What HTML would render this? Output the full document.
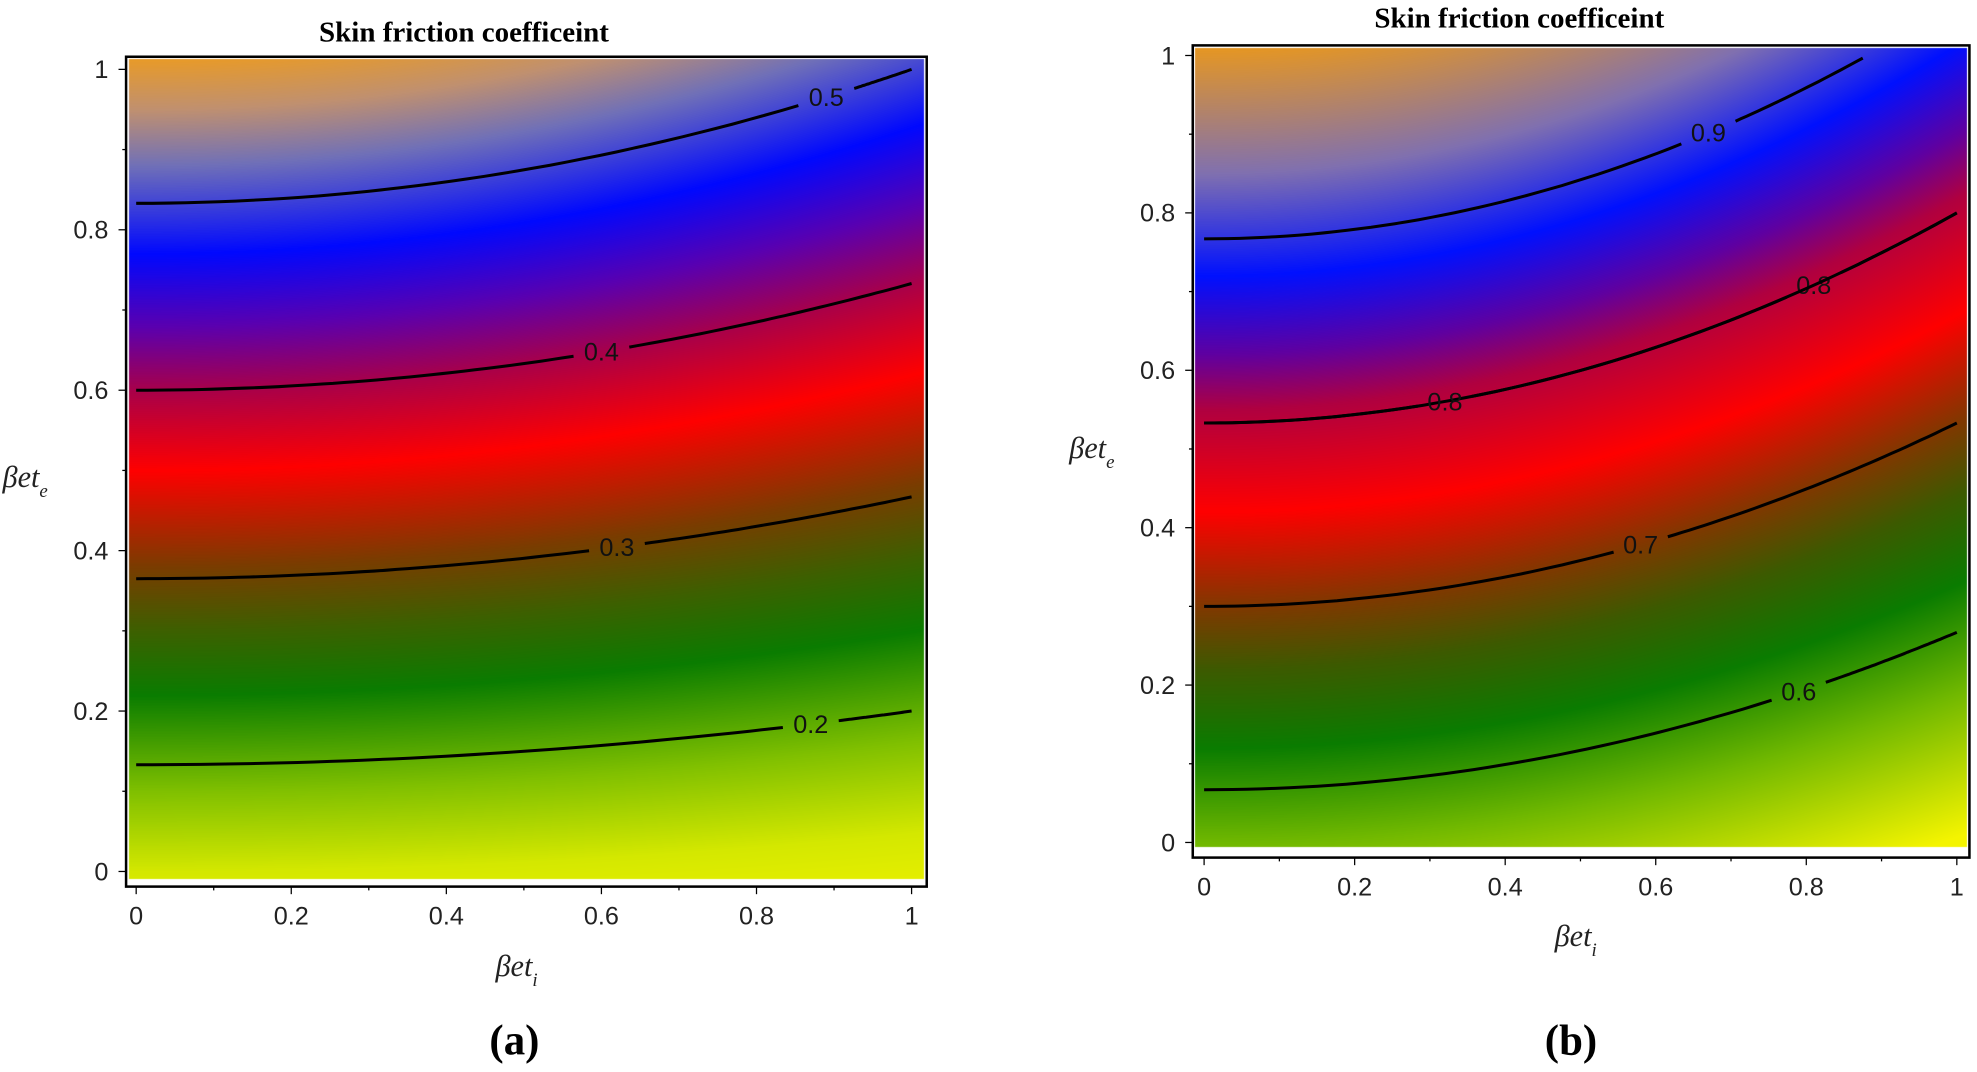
<!DOCTYPE html>
<html><head><meta charset="utf-8">
<style>
html,body{margin:0;padding:0;background:#fff;width:1977px;height:1072px;overflow:hidden}
canvas,svg{position:absolute;left:0;top:0}
</style></head><body>
<canvas id="c" width="1977" height="1072"></canvas>
<svg id="s" width="1977" height="1072" viewBox="0 0 1568 850" preserveAspectRatio="none" xmlns="http://www.w3.org/2000/svg">
<g font-family="Liberation Serif, serif" font-weight="bold" font-size="23" text-anchor="middle" fill="#000">
<text x="368" y="33">Skin friction coefficeint</text>
<text x="1205" y="22">Skin friction coefficeint</text>
<text x="408" y="836" font-size="34">(a)</text>
<text x="1246" y="836" font-size="34">(b)</text>
</g>
<g font-family="Liberation Serif, serif" font-style="italic" font-size="24" fill="#222">
<text x="2" y="386">βet<tspan font-size="15" dy="8">e</tspan></text>
<text x="393" y="774">βet<tspan font-size="15" dy="8">i</tspan></text>
<text x="848" y="363">βet<tspan font-size="15" dy="8">e</tspan></text>
<text x="1233" y="750">βet<tspan font-size="15" dy="8">i</tspan></text>
</g>
<g id="g"></g>
</svg>
<script>
const S=1977/1568;
const P=[
 {fx0:102,fx1:733,fy0:47,fy1:697,x0:108,x1:723,y1:55,y0:691,c:1/3,frame:[100,45,735,703],
  stops:[[-0.1,'#f4f400'],[0,'#d4e800'],[0.1,'#80c000'],[0.22,'#0a7c00'],[0.3,'#3d6000'],[0.38,'#7a3c00'],[0.5,'#ff0000'],[0.6,'#a8004a'],[0.68,'#5a00b0'],[0.77,'#0008ff'],[0.88,'#7070b8'],[0.95,'#c09070'],[1.05,'#ffa000']],
  levels:[[0.833,1.0,0.89,'0.5'],[0.6,0.733,0.6,'0.4'],[0.365,0.467,0.62,'0.3'],[0.133,0.2,0.87,'0.2']]},
 {fx0:948,fx1:1560,fy0:38,fy1:672,x0:955,x1:1552,y1:44,y0:668,c:4/3,frame:[946,36,1562,680],
  stops:[[-0.16,'#f4f400'],[0,'#70b800'],[0.12,'#0a7c00'],[0.22,'#3d5a00'],[0.3,'#803800'],[0.42,'#ff0000'],[0.55,'#b00040'],[0.62,'#6000a0'],[0.72,'#0010ff'],[0.85,'#8070b0'],[1.05,'#ffa000']],
  levels:[[0.767,1.067,0.67,'0.9'],[0.533,0.8,0.81,'0.8'],[0.533,0.8,0.32,'0.8'],[0.3,0.533,0.58,'0.7'],[0.067,0.267,0.79,'0.6']]}
];
function hex(h){return [parseInt(h.substr(1,2),16),parseInt(h.substr(3,2),16),parseInt(h.substr(5,2),16)];}
P.forEach(p=>p.st=p.stops.map(s=>[s[0],hex(s[1])]));
function col(p,u){const st=p.st;if(u<=st[0][0])return st[0][1];
 for(let i=1;i<st.length;i++){if(u<=st[i][0]){const t=(u-st[i-1][0])/(st[i][0]-st[i-1][0]);const a=st[i-1][1],b=st[i][1];return [a[0]+(b[0]-a[0])*t,a[1]+(b[1]-a[1])*t,a[2]+(b[2]-a[2])*t];}}
 return st[st.length-1][1];}
const cv=document.getElementById('c'),ctx=cv.getContext('2d');
const img=ctx.createImageData(1977,1072),d=img.data;
for(let i=0;i<d.length;i+=4){d[i]=d[i+1]=d[i+2]=255;d[i+3]=255;}
P.forEach(p=>{
 for(let py=Math.round(p.fy0*S);py<Math.round(p.fy1*S);py++)for(let px=Math.round(p.fx0*S);px<Math.round(p.fx1*S);px++){
  const mx=px/S,my=py/S;const X=(mx-p.x0)/(p.x1-p.x0),Y=(p.y0-my)/(p.y0-p.y1);
  const u=(Y+p.c)/(1+X*X/7)-p.c;const k=col(p,u);const i=(py*1977+px)*4;
  d[i]=k[0];d[i+1]=k[1];d[i+2]=k[2];}
});
ctx.putImageData(img,0,0);
const g=document.getElementById('g');let h='';
P.forEach((p,pi)=>{
 const f=p.frame;
 h+=`<rect x="${f[0]}" y="${f[1]}" width="${f[2]-f[0]}" height="${f[3]-f[1]}" fill="none" stroke="#000" stroke-width="2"/>`;
 const sx=X=>p.x0+X*(p.x1-p.x0),sy=Y=>p.y0-Y*(p.y0-p.y1);
 for(let k=0;k<=10;k++){const t=k/10;const L=k%2==0?6:3;
  h+=`<line x1="${sx(t)}" y1="${f[3]}" x2="${sx(t)}" y2="${f[3]+L}" stroke="#000" stroke-width="1"/>`;
  h+=`<line x1="${f[0]}" y1="${sy(t)}" x2="${f[0]-L}" y2="${sy(t)}" stroke="#000" stroke-width="1"/>`;
  if(k%2==0){const lab=k==0?'0':k==10?'1':(t.toFixed(1));
   h+=`<text x="${sx(t)}" y="${f[3]+30}" font-family="Liberation Sans, sans-serif" font-size="20" text-anchor="middle" fill="#222">${lab}</text>`;
   h+=`<text x="${f[0]-14}" y="${sy(t)+7}" font-family="Liberation Sans, sans-serif" font-size="20" text-anchor="end" fill="#222">${lab}</text>`;}
 }
 p.levels.forEach(l=>{
  const yf=X=>l[0]+(l[1]-l[0])*X*X;
  const lx=l[2],gap=0.036;
  const seg=(a,b)=>{let s='';for(let j=0;j<=40;j++){const X=a+(b-a)*j/40;const Y=yf(X);if(Y>1.0)break;s+=(s?'L':'M')+sx(X).toFixed(1)+','+sy(Y).toFixed(1);}return s;};
  h+=`<path d="${seg(0,lx-gap)}" fill="none" stroke="#000" stroke-width="2.4"/>`;
  h+=`<path d="${seg(lx+gap,1)}" fill="none" stroke="#000" stroke-width="2.4"/>`;
  h+=`<text x="${sx(lx)}" y="${sy(yf(lx))+7}" font-family="Liberation Sans, sans-serif" font-size="20" text-anchor="middle" fill="#111">${l[3]}</text>`;
 });
});
g.innerHTML=h;
</script>
</body></html>
